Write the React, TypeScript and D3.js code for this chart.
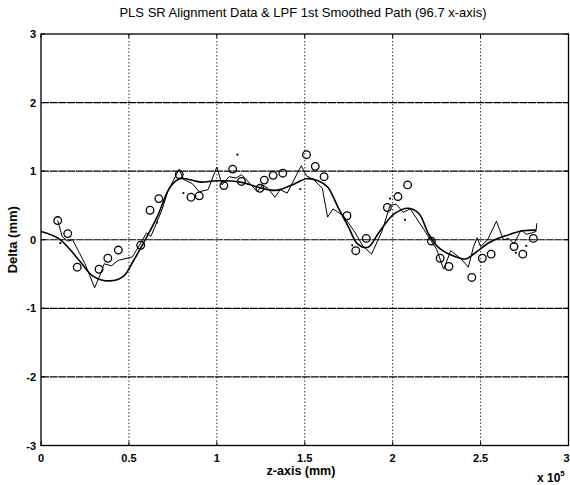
import React from 'react';
import * as d3 from 'd3';

// measured data (z in units of 1e5 mm, delta in mm)
const circleZ = [0.095, 0.152, 0.206, 0.33, 0.38, 0.44, 0.567, 0.62, 0.67, 0.786, 0.853, 0.9, 1.04, 1.09, 1.14, 1.245, 1.27, 1.32, 1.375, 1.51, 1.56, 1.61, 1.74, 1.79, 1.85, 1.97, 2.03, 2.085, 2.22, 2.27, 2.32, 2.45, 2.51, 2.56, 2.69, 2.74, 2.8];
const circleD = [0.28, 0.09, -0.4, -0.43, -0.27, -0.15, -0.08, 0.43, 0.6, 0.95, 0.62, 0.64, 0.79, 1.03, 0.85, 0.75, 0.87, 0.94, 0.97, 1.24, 1.07, 0.92, 0.35, -0.16, 0.02, 0.47, 0.63, 0.8, -0.02, -0.27, -0.39, -0.55, -0.27, -0.21, -0.1, -0.21, 0.02];

const dotZ = [0.11, 0.66, 0.81, 1.117, 1.475, 1.77, 1.985, 2.07, 2.7, 2.76];
const dotD = [-0.05, 0.25, 0.68, 1.24, 0.74, -0.08, 0.6, 0.29, -0.19, -0.09];

const rawZ = [0.095, 0.12, 0.15, 0.18, 0.2, 0.22, 0.25, 0.305, 0.33, 0.36, 0.4, 0.44, 0.52, 0.555, 0.6, 0.625, 0.65, 0.69, 0.72, 0.786, 0.81, 0.86, 0.9, 0.95, 1.0, 1.03, 1.07, 1.11, 1.14, 1.17, 1.23, 1.26, 1.29, 1.33, 1.36, 1.4, 1.48, 1.51, 1.55, 1.6, 1.63, 1.66, 1.72, 1.785, 1.83, 1.88, 1.94, 1.985, 2.02, 2.06, 2.1, 2.19, 2.22, 2.25, 2.29, 2.33, 2.39, 2.43, 2.46, 2.48, 2.5, 2.54, 2.59, 2.63, 2.66, 2.69, 2.73, 2.76, 2.79, 2.815, 2.82];
const rawD = [0.28, 0.05, -0.02, 0.0, -0.1, -0.2, -0.35, -0.7, -0.55, -0.35, -0.38, -0.3, -0.25, -0.1, 0.1, 0.05, 0.2, 0.45, 0.7, 1.03, 0.88, 0.82, 0.7, 0.73, 1.06, 0.8, 0.92, 0.9, 0.95, 0.87, 0.7, 0.8, 0.75, 0.62, 0.73, 0.68, 1.08, 0.93, 0.88, 0.75, 0.33, 0.45, 0.35, 0.11, -0.09, -0.21, 0.13, 0.5, 0.52, 0.4, 0.45, 0.1, -0.02, -0.14, -0.43, -0.16, -0.28, -0.4, -0.1, 0.03, -0.1, 0.0, 0.27, 0.0, 0.02, -0.06, 0.14, 0.08, 0.1, 0.12, 0.24];

const smoothZ = [0, 0.105, 0.22, 0.295, 0.39, 0.47, 0.525, 0.58, 0.66, 0.735, 0.79, 0.87, 0.91, 1.0, 1.135, 1.23, 1.33, 1.42, 1.51, 1.575, 1.63, 1.69, 1.75, 1.8, 1.86, 1.92, 2.01, 2.09, 2.15, 2.205, 2.26, 2.34, 2.415, 2.47, 2.55, 2.645, 2.74, 2.815];
const smoothD = [0.12, 0.01, -0.31, -0.53, -0.6, -0.53, -0.31, -0.06, 0.33, 0.77, 0.89, 0.86, 0.84, 0.86, 0.84, 0.77, 0.72, 0.79, 0.89, 0.86, 0.77, 0.47, 0.18, -0.06, -0.11, 0.1, 0.38, 0.46, 0.38, 0.08, -0.11, -0.23, -0.28, -0.19, -0.04, 0.06, 0.13, 0.14];

const xTicks = [0, 0.5, 1, 1.5, 2, 2.5, 3];
const yTicks = [-3, -2, -1, 0, 1, 2, 3];

const W = 570;
const H = 485;
const m = { left: 41, right: 1.5, top: 34, bottom: 39.5 };

const App: React.FC = () => {
  const x = d3.scaleLinear().domain([0, 3]).range([m.left, W - m.right]);
  const y = d3.scaleLinear().domain([-3, 3]).range([H - m.bottom, m.top]);

  const line = d3.line<[number, number]>().x(d => x(d[0])).y(d => y(d[1]));
  const rawPath = line(rawZ.map((z, i) => [z, rawD[i]]) as [number, number][]) || '';
  const smoothPath = d3.line<[number, number]>()
    .x(d => x(d[0])).y(d => y(d[1]))
    .curve(d3.curveCatmullRom)(smoothZ.map((z, i) => [z, smoothD[i]]) as [number, number][]) || '';

  const font = 'Arial, "Liberation Sans", Helvetica, sans-serif';

  return (
    <svg width={W} height={H} style={{ position: 'absolute', left: 0, top: 0, background: '#fff' }} fontFamily={font}>
      {/* grid */}
      {xTicks.slice(1, -1).map(t => (
        <line key={'gx' + t} x1={x(t)} x2={x(t)} y1={y(3)} y2={y(-3)} stroke="#000" strokeWidth={0.8} strokeDasharray="1.5,2" />
      ))}
      {yTicks.slice(1, -1).map(t => (
        <line key={'gy' + t} x1={x(0)} x2={x(3)} y1={y(t)} y2={y(t)} stroke="#000" strokeWidth={1.1} strokeDasharray="8,0.7" />
      ))}
      {/* frame */}
      <rect x={x(0)} y={y(3)} width={x(3) - x(0)} height={y(-3) - y(3)} fill="none" stroke="#000" strokeWidth={1.3} />
      {/* ticks */}
      {xTicks.map(t => (
        <g key={'tx' + t}>
          <line x1={x(t)} x2={x(t)} y1={y(-3)} y2={y(-3) - 4} stroke="#000" />
          <line x1={x(t)} x2={x(t)} y1={y(3)} y2={y(3) + 4} stroke="#000" />
          <text x={t === 3 ? x(t) - 2 : x(t)} y={y(-3) + 16.5} textAnchor="middle" fontSize={11} fontWeight="bold">{t}</text>
        </g>
      ))}
      {yTicks.map(t => (
        <g key={'ty' + t}>
          <line x1={x(0)} x2={x(0) + 4} y1={y(t)} y2={y(t)} stroke="#000" />
          <line x1={x(3)} x2={x(3) - 4} y1={y(t)} y2={y(t)} stroke="#000" />
          <text x={x(0) - 5} y={y(t) + 4} textAnchor="end" fontSize={11} fontWeight="bold">{t}</text>
        </g>
      ))}
      {/* series */}
      <path d={rawPath} fill="none" stroke="#000" strokeWidth={1} />
      <path d={smoothPath} fill="none" stroke="#000" strokeWidth={1.6} />
      {circleZ.map((z, i) => (
        <circle key={'c' + i} cx={x(z)} cy={y(circleD[i])} r={3.8} fill="none" stroke="#000" strokeWidth={1.3} />
      ))}
      {dotZ.map((z, i) => (
        <circle key={'d' + i} cx={x(z)} cy={y(dotD[i])} r={1.1} fill="#000" />
      ))}
      {/* labels */}
      <text x={303} y={17} textAnchor="middle" fontSize={13}>PLS SR Alignment Data &amp; LPF 1st Smoothed Path (96.7 x-axis)</text>
      <text x={301} y={475} textAnchor="middle" fontSize={12.5} fontWeight="bold">z-axis (mm)</text>
      <text transform={`translate(17,${(y(3) + y(-3)) / 2}) rotate(-90)`} textAnchor="middle" fontSize={13} fontWeight="bold">Delta (mm)</text>
      <text x={537} y={482} fontSize={12} fontWeight="bold">x 10<tspan dy={-6} fontSize={8}>5</tspan></text>
    </svg>
  );
};

export default App;
